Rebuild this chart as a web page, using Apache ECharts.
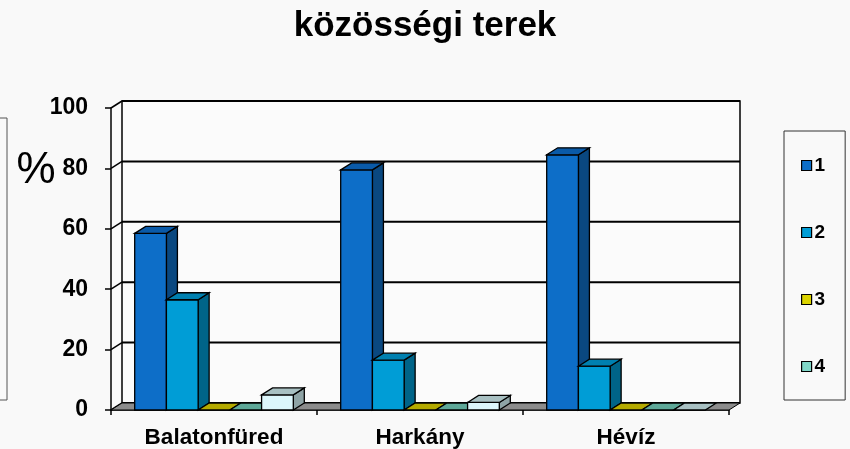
<!DOCTYPE html>
<html>
<head>
<meta charset="utf-8">
<script src="https://cdn.jsdelivr.net/npm/echarts@6/dist/echarts.min.js"></script>
<style>
  html, body { margin: 0; padding: 0; background: #f9f9f9; }
  #chart { width: 850px; height: 449px; }
</style>
</head>
<body>
<div id="chart"></div>
<script>
const categories = ['Balatonfüred', 'Harkány', 'Hévíz']
const seriesNames = ['1', '2', '3', '4', '5']
const s1 = [58.5, 79.5, 84.5]
const s2 = [36.5, 16.5, 14.5]
const s3 = [0, 0, 0]
const s4 = [0, 0, 0]
const s5 = [5, 2.5, 0]
const yTicks = [0, 20, 40, 60, 80, 100]

const values = [s1, s2, s3, s4, s5]
// front / top / side shades
const shades = [
  ['#0d6ec8', '#0a5aa8', '#0a4880'],
  ['#009dd6', '#0080b0', '#006488'],
  ['#dcd400', '#b4aa00', '#8a8400'],
  ['#80d8c8', '#5ea898', '#4a8a7c'],
  ['#dcf6fb', '#a8c0c2', '#8fa4a6']
]
const DX = 11, DY = 7
const font = 'Liberation Sans, Arial, sans-serif'

const chart = echarts.init(document.getElementById('chart'), null, { renderer: 'canvas' })

// walls + floor
const frameSeries = {
  type: 'custom',
  name: 'frame',
  silent: true,
  data: [[0, 0]],
  z: 1,
  renderItem: (params, api) => {
    const cs = params.coordSys
    const left = cs.x, right = cs.x + cs.width
    const y0 = api.coord([0, 0])[1]
    const yTop = api.coord([0, 100])[1]
    const kids = []
    kids.push({
      type: 'rect',
      shape: { x: left + DX, y: yTop - DY, width: cs.width, height: y0 - yTop },
      style: { fill: '#fbfbfb', stroke: '#000', lineWidth: 1.5 }
    })
    yTicks.forEach(t => {
      const y = api.coord([0, t])[1]
      kids.push({
        type: 'line',
        shape: { x1: left + DX, y1: y - DY, x2: right + DX, y2: y - DY },
        style: { stroke: '#000', lineWidth: 2 }
      })
      kids.push({
        type: 'line',
        shape: { x1: left, y1: y, x2: left + DX, y2: y - DY },
        style: { stroke: '#000', lineWidth: 1.5 }
      })
    })
    kids.push({
      type: 'polygon',
      shape: { points: [[left, y0], [left + DX, y0 - DY], [right + DX, y0 - DY], [right, y0]] },
      style: { fill: '#8c8c8c', stroke: '#000', lineWidth: 1 }
    })
    return { type: 'group', children: kids }
  }
}

const barSeries = values.map((vals, k) => ({
  type: 'custom',
  name: seriesNames[k],
  z: 2 + k,
  itemStyle: { color: shades[k][0], borderColor: '#000', borderWidth: 1 },
  data: vals.map((v, i) => [i, v]),
  renderItem: (params, api) => {
    const ci = api.value(0), v = api.value(1)
    const top = api.coord([ci, v])
    const base = api.coord([ci, 0])
    const bw = api.size([1, 0])[0] * 0.154
    const x0 = top[0] + (k - 2.5) * bw, x1 = x0 + bw
    const yT = top[1], yB = base[1]
    const st = { stroke: '#000', lineWidth: 1.3 }
    const kids = []
    if (v > 0) {
      kids.push({
        type: 'polygon',
        shape: { points: [[x1, yT], [x1 + DX, yT - DY], [x1 + DX, yB - DY], [x1, yB]] },
        style: Object.assign({ fill: shades[k][2] }, st)
      })
      kids.push({
        type: 'rect',
        shape: { x: x0, y: yT, width: bw, height: yB - yT },
        style: Object.assign({ fill: shades[k][0] }, st)
      })
    }
    kids.push({
      type: 'polygon',
      shape: { points: [[x0, yT], [x0 + DX, yT - DY], [x1 + DX, yT - DY], [x1, yT]] },
      style: Object.assign({ fill: shades[k][1] }, st)
    })
    return { type: 'group', children: kids }
  }
}))

const option = {
  animation: false,
  backgroundColor: '#f9f9f9',
  title: {
    text: 'közösségi terek',
    left: 'center',
    top: 4,
    textStyle: { fontSize: 35, fontWeight: 'bold', fontFamily: font, color: '#000' }
  },
  legend: {
    data: ['1', '2', '3', '4'],
    orient: 'vertical',
    left: 784,
    top: 131,
    icon: 'rect',
    itemWidth: 10,
    itemHeight: 10,
    itemGap: 48,
    padding: [25, 20, 24, 17],
    borderColor: '#333',
    borderWidth: 1,
    itemStyle: { borderColor: '#000', borderWidth: 1.2 },
    textStyle: { fontSize: 19, fontWeight: 'bold', fontFamily: font, color: '#000', padding: [0, 0, 0, -2] }
  },
  grid: { left: 111, right: 121, top: 108, bottom: 38 },
  xAxis: {
    type: 'category',
    data: categories,
    axisLine: { lineStyle: { color: '#000', width: 1.5 } },
    axisTick: { show: true, length: 5, lineStyle: { color: '#000', width: 1.5 } },
    axisLabel: { fontSize: 22.5, fontWeight: 'bold', fontFamily: font, color: '#000', margin: 16 },
    splitLine: { show: false }
  },
  yAxis: {
    type: 'value',
    min: 0,
    max: 100,
    interval: 20,
    axisLine: { show: true, lineStyle: { color: '#000', width: 1.5 } },
    axisTick: { show: true, length: 6, lineStyle: { color: '#000', width: 1.5 } },
    axisLabel: { fontSize: 23, fontWeight: 'bold', fontFamily: font, color: '#000', margin: 23 },
    splitLine: { show: false }
  },
  graphic: [
    {
      type: 'rect',
      shape: { x: -20, y: 118, width: 27, height: 282 },
      style: { fill: 'none', stroke: '#555', lineWidth: 1 }
    },
    {
      type: 'text',
      style: { text: '%', x: 36, y: 171, align: 'center', verticalAlign: 'middle', font: '44px ' + font, fill: '#000' }
    }
  ],
  series: [frameSeries].concat(barSeries)
}

chart.setOption(option)
</script>
</body>
</html>
